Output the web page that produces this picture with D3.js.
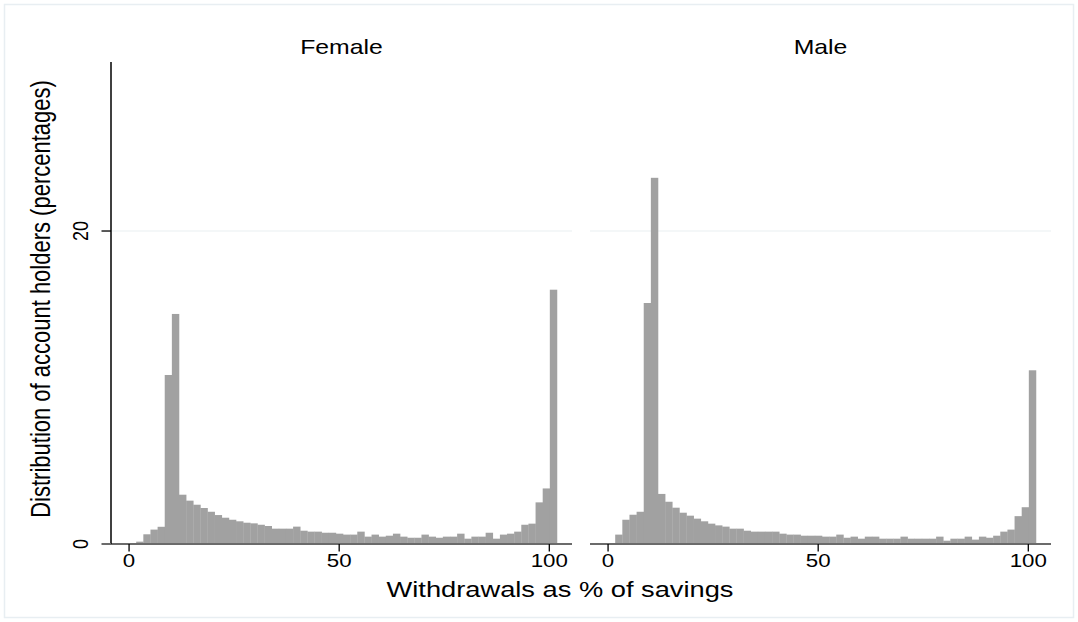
<!DOCTYPE html>
<html>
<head>
<meta charset="utf-8">
<script src="https://cdn.jsdelivr.net/npm/d3@7"></script>
<style>
  body { margin: 0; background: #fff; }
  text { font-family: "Liberation Sans", Arial, sans-serif; fill: #000; }
</style>
</head>
<body>
<svg id="chart" width="1078" height="622"></svg>
<script>
// histogram bins (percent of account holders), 60 bins starting at 0
var binStart = 0;
var binWidth = 1.697;

var female = [
  0.06, 0.15, 0.62, 0.92, 1.10, 10.8, 14.7, 3.15, 2.77, 2.51,
  2.30, 2.06, 1.85, 1.68, 1.55, 1.45, 1.36, 1.32, 1.23, 1.15,
  0.98, 0.98, 0.98, 1.11, 0.85, 0.79, 0.79, 0.72, 0.72, 0.66,
  0.60, 0.60, 0.79, 0.47, 0.60, 0.47, 0.53, 0.66, 0.47, 0.40,
  0.40, 0.60, 0.47, 0.40, 0.47, 0.47, 0.66, 0.34, 0.47, 0.47,
  0.72, 0.34, 0.60, 0.66, 0.79, 1.23, 1.30, 2.66, 3.55, 16.25
];

var male = [
  0.06, 0.60, 1.55, 1.87, 2.06, 15.4, 23.4, 3.20, 2.70, 2.32,
  2.00, 1.81, 1.62, 1.45, 1.30, 1.19, 1.11, 0.98, 0.98, 0.85,
  0.79, 0.79, 0.79, 0.79, 0.66, 0.60, 0.60, 0.53, 0.53, 0.53,
  0.47, 0.47, 0.60, 0.40, 0.47, 0.34, 0.47, 0.47, 0.34, 0.34,
  0.34, 0.47, 0.34, 0.34, 0.34, 0.34, 0.47, 0.21, 0.34, 0.34,
  0.47, 0.28, 0.47, 0.40, 0.53, 0.79, 0.92, 1.78, 2.35, 11.1
];

var panels = ["Female", "Male"];
var xTicks = [0, 50, 100];
var yTicks = [0, 20];

var sx = 1.24; // text in the original is a bit wide
var svg = d3.select("#chart");

// outer frame
svg.append("rect")
  .attr("x", 4.5).attr("y", 4.5)
  .attr("width", 1069).attr("height", 613)
  .attr("fill", "#fff")
  .attr("stroke", "#e8eef2")
  .attr("stroke-width", 1.5);

var y = d3.scaleLinear().domain([0, 30.8]).range([544, 62]);

var panelLeft = [111, 590];
var panelW = 461;

panels.forEach(function(name, p) {
  var data = p === 0 ? female : male;
  var left = panelLeft[p];
  var x = d3.scaleLinear().domain([-4.3, 105.4]).range([left, left + panelW]);
  var g = svg.append("g");

  // grid line
  g.selectAll(".grid")
    .data(yTicks.filter(d => d > 0))
    .enter()
    .append("line")
    .attr("x1", left).attr("x2", left + panelW)
    .attr("y1", d => y(d)).attr("y2", d => y(d))
    .attr("stroke", "#eaf0f2")
    .attr("stroke-width", 1.2);

  // bars
  g.selectAll(".bar")
    .data(data)
    .enter()
    .append("rect")
    .attr("x", (d, i) => x(binStart + i * binWidth))
    .attr("width", (d, i) => x(binStart + (i + 1) * binWidth) - x(binStart + i * binWidth) + 0.3)
    .attr("y", d => y(d))
    .attr("height", d => y(0) - y(d))
    .attr("fill", "#a1a1a1");

  // x axis
  g.append("line")
    .attr("x1", left).attr("x2", left + panelW)
    .attr("y1", y(0)).attr("y2", y(0))
    .attr("stroke", "#6b6b6b")
    .attr("stroke-width", 2);

  g.selectAll(".xtick")
    .data(xTicks)
    .enter()
    .append("line")
    .attr("x1", d => x(d)).attr("x2", d => x(d))
    .attr("y1", y(0)).attr("y2", y(0) + 7.5)
    .attr("stroke", "#000")
    .attr("stroke-width", 1.3);

  g.selectAll(".xlab")
    .data(xTicks)
    .enter()
    .append("text")
    .attr("transform", d => "translate(" + x(d) + "," + (y(0) + 23) + ") scale(" + sx + ",1)")
    .attr("text-anchor", "middle")
    .style("font-size", "18px")
    .text(d => d);

  // panel title
  svg.append("text")
    .attr("transform", "translate(" + (left + panelW / 2) + ",54) scale(" + sx + ",1)")
    .attr("text-anchor", "middle")
    .style("font-size", "20px")
    .text(name);
});

// y axis (left panel only)
svg.append("line")
  .attr("x1", 111).attr("x2", 111)
  .attr("y1", y.range()[1]).attr("y2", y(0))
  .attr("stroke", "#000")
  .attr("stroke-width", 1.5);

svg.selectAll(".ytick")
  .data(yTicks)
  .enter()
  .append("line")
  .attr("x1", 101.5).attr("x2", 111)
  .attr("y1", d => y(d)).attr("y2", d => y(d))
  .attr("stroke", d => d === 0 ? "#6b6b6b" : "#000")
  .attr("stroke-width", d => d === 0 ? 2 : 1.3);

svg.selectAll(".ylab")
  .data(yTicks)
  .enter()
  .append("text")
  .attr("transform", d => "translate(88," + y(d) + ") rotate(-90) scale(1," + sx + ")")
  .attr("text-anchor", "middle")
  .style("font-size", "18px")
  .text(d => d);

// axis titles
svg.append("text")
  .attr("transform", "translate(560,597) scale(" + sx + ",1)")
  .attr("text-anchor", "middle")
  .style("font-size", "22px")
  .text("Withdrawals as % of savings");

svg.append("text")
  .attr("transform", "translate(50,299) rotate(-90) scale(1," + sx + ")")
  .attr("text-anchor", "middle")
  .style("font-size", "22px")
  .text("Distribution of account holders (percentages)");
</script>
</body>
</html>
